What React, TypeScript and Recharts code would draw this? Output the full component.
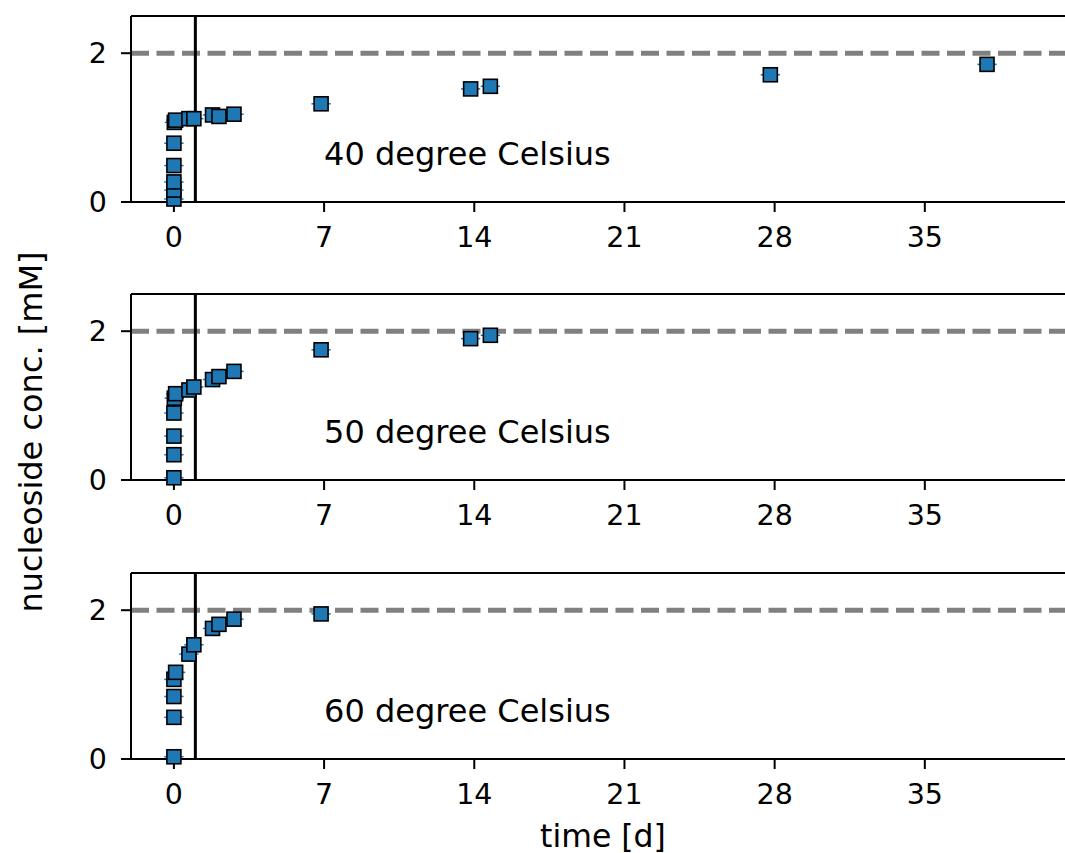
import {
  ScatterChart,
  Scatter,
  XAxis,
  YAxis,
  ReferenceLine,
  ReferenceDot,
  ErrorBar,
} from 'recharts';

const FONT = "'DejaVu Sans', 'Liberation Sans', sans-serif";

// tick labels
const xTicks = [0, 7, 14, 21, 28, 35];
const yTicks = [0, 2];

// 40 degree Celsius
const days40 = [0, 0, 0, 0, 0, 0.02, 0.08, 0.7, 0.93, 1.8, 2.1, 2.8, 6.86, 13.83, 14.75, 27.8, 37.9];
const conc40 = [0.04, 0.16, 0.27, 0.49, 0.79, 1.07, 1.1, 1.12, 1.12, 1.17, 1.15, 1.18, 1.32, 1.52, 1.555, 1.71, 1.85];

// 50 degree Celsius
const days50 = [0, 0, 0, 0, 0.02, 0.08, 0.7, 0.93, 1.8, 2.1, 2.8, 6.86, 13.83, 14.75];
const conc50 = [0.03, 0.34, 0.59, 0.9, 1.1, 1.16, 1.21, 1.25, 1.35, 1.39, 1.46, 1.75, 1.9, 1.945];

// 60 degree Celsius
const days60 = [0, 0, 0, 0, 0.08, 0.7, 0.93, 1.8, 2.1, 2.8, 6.86];
const conc60 = [0.03, 0.56, 0.84, 1.07, 1.165, 1.41, 1.535, 1.755, 1.81, 1.88, 1.95];

const panelTitles = ['40 degree Celsius', '50 degree Celsius', '60 degree Celsius'];

const X_ERR = 0.45; // time uncertainty [d]
const SATURATION = 2; // mM
const START_DAY = 1;
const TEXT_AT = { day: 7, conc: 0.5 };

const BLUE = '#1f77b4';

const Square = (props: any) => {
  const { cx, cy } = props;
  if (cx == null || cy == null) return null;
  return (
    <rect x={cx - 7} y={cy - 7} width={14} height={14} fill={BLUE} stroke="#000" strokeWidth={1.6} />
  );
};

const panelText = (text: string) => (props: any) => {
  const vb = props.viewBox || {};
  return (
    <text x={vb.x} y={vb.y} fill="#000" fontSize={32} fontFamily={FONT} textAnchor="start">
      {text}
    </text>
  );
};

function Panel({ days, conc, title }: { days: number[]; conc: number[]; title: string }) {
  const data = days.map((d, i) => ({ day: d, conc: conc[i], err: X_ERR }));
  const tickStyle = { fill: '#000', fontSize: 28.5, fontFamily: FONT };
  return (
    <ScatterChart width={1075} height={278} margin={{ top: 16, right: 0, bottom: 0, left: 0 }}>
      <XAxis
        type="number"
        dataKey="day"
        domain={[-2, 42]}
        ticks={xTicks}
        height={76}
        tick={tickStyle}
        tickSize={10}
        tickMargin={15}
        axisLine={{ stroke: '#000', strokeWidth: 2 }}
        tickLine={{ stroke: '#000', strokeWidth: 2 }}
      />
      <YAxis
        type="number"
        dataKey="conc"
        domain={[0, 2.5]}
        ticks={yTicks}
        width={131}
        tick={tickStyle}
        tickSize={10}
        tickMargin={14}
        axisLine={{ stroke: '#000', strokeWidth: 2 }}
        tickLine={{ stroke: '#000', strokeWidth: 2 }}
      />
      <ReferenceLine y={2.5} stroke="#000" strokeWidth={2} />
      <ReferenceLine x={42} stroke="#000" strokeWidth={2} />
      <ReferenceLine y={SATURATION} stroke="#808080" strokeWidth={5} strokeDasharray="18 7.5" />
      <ReferenceLine x={START_DAY} stroke="#000" strokeWidth={3} />
      <ReferenceDot x={TEXT_AT.day} y={TEXT_AT.conc} r={0} fill="none" stroke="none" label={panelText(title)} />
      <Scatter data={data} shape={Square} isAnimationActive={false}>
        <ErrorBar dataKey="err" direction="x" width={0} stroke={BLUE} strokeWidth={1.5} />
      </Scatter>
    </ScatterChart>
  );
}

export default function App() {
  const panels = [
    { days: days40, conc: conc40, title: panelTitles[0] },
    { days: days50, conc: conc50, title: panelTitles[1] },
    { days: days60, conc: conc60, title: panelTitles[2] },
  ];
  return (
    <div
      style={{
        position: 'absolute',
        left: 0,
        top: 0,
        width: 1065,
        height: 853,
        overflow: 'hidden',
        background: '#fff',
      }}
    >
      {panels.map((p, i) => (
        <div key={p.title} style={{ position: 'absolute', left: 0, top: i * 278.3 }}>
          <Panel days={p.days} conc={p.conc} title={p.title} />
        </div>
      ))}
      <svg
        width={1065}
        height={853}
        style={{ position: 'absolute', left: 0, top: 0, pointerEvents: 'none' }}
      >
        <text
          transform="translate(41.5 432) rotate(-90)"
          textAnchor="middle"
          fontSize={32}
          fontFamily={FONT}
          fill="#000"
        >
          nucleoside conc. [mM]
        </text>
        <text x={603} y={847} textAnchor="middle" fontSize={31.5} fontFamily={FONT} fill="#000">
          time [d]
        </text>
      </svg>
    </div>
  );
}
